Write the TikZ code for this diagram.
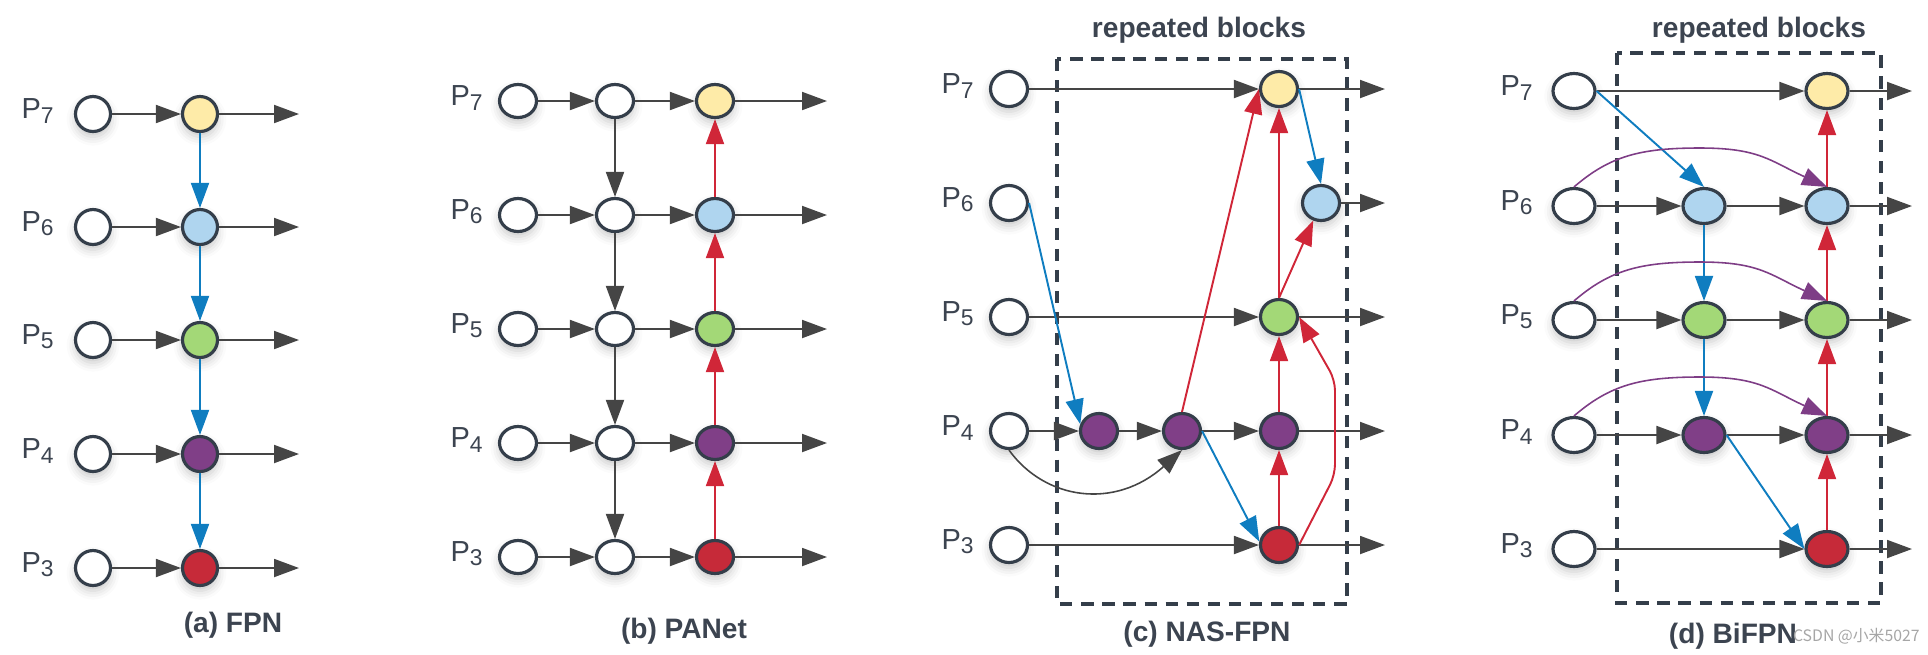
\documentclass[tikz,border=0pt]{standalone}
\usepackage{fontspec}
\setmainfont{Liberation Sans}
\newfontfamily\cjkfont{Noto Sans CJK SC}
\usetikzlibrary{arrows.meta,shapes.geometric,shadows.blur}

\definecolor{edgegray}{HTML}{343E4A}
\definecolor{txtgray}{HTML}{3C4450}
\definecolor{arrgray}{HTML}{454545}
\definecolor{fyellow}{HTML}{FEEBA8}
\definecolor{fblue}{HTML}{AFD5EF}
\definecolor{fgreen}{HTML}{A3D877}
\definecolor{fpurple}{HTML}{803F87}
\definecolor{fred}{HTML}{C62A39}
\definecolor{lblue}{HTML}{0F7DC0}
\definecolor{lred}{HTML}{D02638}
\definecolor{lpurple}{HTML}{7E3D86}

\newcommand{\plab}[1]{P\raisebox{-2.4pt}{\fontsize{13}{13}\selectfont #1}}

\tikzset{
  fnode/.style={ellipse, draw=edgegray, line width=1.8pt, fill=white, inner sep=0pt,
    minimum width=0.70cm, minimum height=0.70cm,
    blur shadow={shadow xshift=0pt, shadow yshift=-3pt, shadow blur radius=5pt, shadow opacity=22}},
  sizeb/.style={minimum width=0.74cm, minimum height=0.66cm},
  sizec/.style={minimum width=0.74cm, minimum height=0.70cm},
  sized/.style={minimum width=0.84cm, minimum height=0.70cm},
  arr/.style={color=arrgray, line width=1.1pt, -{Triangle[length=0.5cm,width=0.36cm]}},
  bluearr/.style={arr, color=lblue},
  redarr/.style={arr, color=lred},
  purparr/.style={arr, color=lpurple, line width=0.9pt},
  thinarr/.style={arr, line width=0.9pt},
  plabel/.style={font=\fontsize{16.5}{18}\selectfont, text=txtgray, anchor=east, inner sep=0pt},
  caption/.style={font=\fontsize{16}{18}\selectfont\bfseries, text=txtgray, inner sep=0pt},
  rblock/.style={draw=edgegray, line width=2pt, dash pattern=on 7pt off 5pt}
}

\begin{document}
\begin{tikzpicture}[x=0.02cm, y=0.02cm]
\useasboundingbox (0,0) rectangle (1928,-654);

% (a) FPN
\node[plabel] (a7l) at (54,-111) {\plab{7}};
\node[plabel] (a6l) at (54,-224) {\plab{6}};
\node[plabel] (a5l) at (54,-337) {\plab{5}};
\node[plabel] (a4l) at (54,-451) {\plab{4}};
\node[plabel] (a3l) at (54,-565) {\plab{3}};
\node[fnode] (a7i) at (93,-114) {};
\node[fnode] (a6i) at (93,-227) {};
\node[fnode] (a5i) at (93,-340) {};
\node[fnode] (a4i) at (93,-454) {};
\node[fnode] (a3i) at (93,-568) {};
\node[fnode, fill=fyellow] (a7f) at (200,-114) {};
\node[fnode, fill=fblue] (a6f) at (200,-227) {};
\node[fnode, fill=fgreen] (a5f) at (200,-340) {};
\node[fnode, fill=fpurple] (a4f) at (200,-454) {};
\node[fnode, fill=fred] (a3f) at (200,-568) {};
\coordinate (a7o) at (299,-114);
\coordinate (a6o) at (299,-227);
\coordinate (a5o) at (299,-340);
\coordinate (a4o) at (299,-454);
\coordinate (a3o) at (299,-568);
\draw[arr] (a7i) -- (a7f);
\draw[arr] (a6i) -- (a6f);
\draw[arr] (a5i) -- (a5f);
\draw[arr] (a4i) -- (a4f);
\draw[arr] (a3i) -- (a3f);
\draw[arr] (a7f) -- (a7o);
\draw[arr] (a6f) -- (a6o);
\draw[arr] (a5f) -- (a5o);
\draw[arr] (a4f) -- (a4o);
\draw[arr] (a3f) -- (a3o);
\draw[bluearr] (a7f) -- (a6f);
\draw[bluearr] (a6f) -- (a5f);
\draw[bluearr] (a5f) -- (a4f);
\draw[bluearr] (a4f) -- (a3f);
\node[caption] (acap) at (233,-625) {(a) FPN};

% (b) PANet
\node[plabel] (b7l) at (483,-98) {\plab{7}};
\node[plabel] (b6l) at (483,-212) {\plab{6}};
\node[plabel] (b5l) at (483,-326) {\plab{5}};
\node[plabel] (b4l) at (483,-440) {\plab{4}};
\node[plabel] (b3l) at (483,-554) {\plab{3}};
\node[fnode, sizeb] (b7i) at (518,-101) {};
\node[fnode, sizeb] (b6i) at (518,-215) {};
\node[fnode, sizeb] (b5i) at (518,-329) {};
\node[fnode, sizeb] (b4i) at (518,-443) {};
\node[fnode, sizeb] (b3i) at (518,-557) {};
\node[fnode, sizeb] (b7m) at (615,-101) {};
\node[fnode, sizeb] (b6m) at (615,-215) {};
\node[fnode, sizeb] (b5m) at (615,-329) {};
\node[fnode, sizeb] (b4m) at (615,-443) {};
\node[fnode, sizeb] (b3m) at (615,-557) {};
\node[fnode, sizeb, fill=fyellow] (b7f) at (715,-101) {};
\node[fnode, sizeb, fill=fblue] (b6f) at (715,-215) {};
\node[fnode, sizeb, fill=fgreen] (b5f) at (715,-329) {};
\node[fnode, sizeb, fill=fpurple] (b4f) at (715,-443) {};
\node[fnode, sizeb, fill=fred] (b3f) at (715,-557) {};
\coordinate (b7o) at (827,-101);
\coordinate (b6o) at (827,-215);
\coordinate (b5o) at (827,-329);
\coordinate (b4o) at (827,-443);
\coordinate (b3o) at (827,-557);
\draw[arr] (b7i) -- (b7m);
\draw[arr] (b6i) -- (b6m);
\draw[arr] (b5i) -- (b5m);
\draw[arr] (b4i) -- (b4m);
\draw[arr] (b3i) -- (b3m);
\draw[arr] (b7m) -- (b7f);
\draw[arr] (b6m) -- (b6f);
\draw[arr] (b5m) -- (b5f);
\draw[arr] (b4m) -- (b4f);
\draw[arr] (b3m) -- (b3f);
\draw[arr] (b7f) -- (b7o);
\draw[arr] (b6f) -- (b6o);
\draw[arr] (b5f) -- (b5o);
\draw[arr] (b4f) -- (b4o);
\draw[arr] (b3f) -- (b3o);
\draw[arr] (b7m) -- (b6m);
\draw[arr] (b6m) -- (b5m);
\draw[arr] (b5m) -- (b4m);
\draw[arr] (b4m) -- (b3m);
\draw[redarr] (b3f) -- (b4f);
\draw[redarr] (b4f) -- (b5f);
\draw[redarr] (b5f) -- (b6f);
\draw[redarr] (b6f) -- (b7f);
\node[caption] (bcap) at (684,-631) {(b) PANet};

% (c) NAS-FPN
\draw[rblock] (1057,-59) rectangle (1347,-604);
\node[caption] (crep) at (1199,-30) {repeated blocks};
\node[plabel] (c7l) at (974,-86) {\plab{7}};
\node[plabel] (c6l) at (974,-200) {\plab{6}};
\node[plabel] (c5l) at (974,-314) {\plab{5}};
\node[plabel] (c4l) at (974,-428) {\plab{4}};
\node[plabel] (c3l) at (974,-542) {\plab{3}};
\node[fnode, sizec] (c7i) at (1009,-89) {};
\node[fnode, sizec] (c6i) at (1009,-203) {};
\node[fnode, sizec] (c5i) at (1009,-317) {};
\node[fnode, sizec] (c4i) at (1009,-431) {};
\node[fnode, sizec] (c3i) at (1009,-545) {};
\node[fnode, sizec, fill=fpurple] (c4a) at (1099,-431) {};
\node[fnode, sizec, fill=fpurple] (c4b) at (1182,-431) {};
\node[fnode, sizec, fill=fyellow] (c7f) at (1279,-89) {};
\node[fnode, sizec, fill=fblue] (c6f) at (1321,-203) {};
\node[fnode, sizec, fill=fgreen] (c5f) at (1279,-317) {};
\node[fnode, sizec, fill=fpurple] (c4f) at (1279,-431) {};
\node[fnode, sizec, fill=fred] (c3f) at (1279,-545) {};
\coordinate (c7o) at (1385,-89);
\coordinate (c6o) at (1385,-203);
\coordinate (c5o) at (1385,-317);
\coordinate (c4o) at (1385,-431);
\coordinate (c3o) at (1385,-545);
\draw[arr] (c7i) -- (c7f);
\draw[arr] (c5i) -- (c5f);
\draw[arr] (c4i) -- (c4a);
\draw[arr] (c4a) -- (c4b);
\draw[arr] (c4b) -- (c4f);
\draw[arr] (c3i) -- (c3f);
\draw[arr] (c7f) -- (c7o);
\draw[arr] (c6f) -- (c6o);
\draw[arr] (c5f) -- (c5o);
\draw[arr] (c4f) -- (c4o);
\draw[arr] (c3f) -- (c3o);
\draw[thinarr] (c4i.south) .. controls (1045,-500) and (1115,-510) .. (c4b.south);
\draw[bluearr] (c6i.east) -- (c4a.160);
\draw[bluearr] (c4b.east) -- (c3f.170);
\draw[bluearr] (c7f.east) -- (c6f.north);
\draw[redarr] (c4b.north) -- (c7f.west);
\draw[redarr] (c3f) -- (c4f);
\draw[redarr] (c4f) -- (c5f);
\draw[redarr] (c5f) -- (c7f);
\draw[redarr] (c5f.north) -- (c6f);
\draw[redarr, rounded corners=6pt] (c3f.east) -- (1335,-475) -- (1335,-380) -- (c5f.east);
\node[caption] (ccap) at (1207,-634) {(c) NAS-FPN};

% (d) BiFPN
\draw[rblock] (1617,-53) rectangle (1881,-603);
\node[caption] (drep) at (1759,-30) {repeated blocks};
\node[plabel] (d7l) at (1533,-88) {\plab{7}};
\node[plabel] (d6l) at (1533,-203) {\plab{6}};
\node[plabel] (d5l) at (1533,-317) {\plab{5}};
\node[plabel] (d4l) at (1533,-432) {\plab{4}};
\node[plabel] (d3l) at (1533,-546) {\plab{3}};
\node[fnode, sized] (d7i) at (1574,-91) {};
\node[fnode, sized] (d6i) at (1574,-206) {};
\node[fnode, sized] (d5i) at (1574,-320) {};
\node[fnode, sized] (d4i) at (1574,-435) {};
\node[fnode, sized] (d3i) at (1574,-549) {};
\node[fnode, sized, fill=fblue] (d6m) at (1704,-206) {};
\node[fnode, sized, fill=fgreen] (d5m) at (1704,-320) {};
\node[fnode, sized, fill=fpurple] (d4m) at (1704,-435) {};
\node[fnode, sized, fill=fyellow] (d7f) at (1827,-91) {};
\node[fnode, sized, fill=fblue] (d6f) at (1827,-206) {};
\node[fnode, sized, fill=fgreen] (d5f) at (1827,-320) {};
\node[fnode, sized, fill=fpurple] (d4f) at (1827,-435) {};
\node[fnode, sized, fill=fred] (d3f) at (1827,-549) {};
\coordinate (d7o) at (1912,-91);
\coordinate (d6o) at (1912,-206);
\coordinate (d5o) at (1912,-320);
\coordinate (d4o) at (1912,-435);
\coordinate (d3o) at (1912,-549);
\draw[arr] (d7i) -- (d7f);
\draw[arr] (d6i) -- (d6m);
\draw[arr] (d5i) -- (d5m);
\draw[arr] (d4i) -- (d4m);
\draw[arr] (d3i) -- (d3f);
\draw[arr] (d6m) -- (d6f);
\draw[arr] (d5m) -- (d5f);
\draw[arr] (d4m) -- (d4f);
\draw[arr] (d7f) -- (d7o);
\draw[arr] (d6f) -- (d6o);
\draw[arr] (d5f) -- (d5o);
\draw[arr] (d4f) -- (d4o);
\draw[arr] (d3f) -- (d3o);
\draw[bluearr] (d7i.east) -- (d6m.north);
\draw[bluearr] (d6m) -- (d5m);
\draw[bluearr] (d5m) -- (d4m);
\draw[bluearr] (d4m.east) -- (d3f.west);
\draw[redarr] (d3f) -- (d4f);
\draw[redarr] (d4f) -- (d5f);
\draw[redarr] (d5f) -- (d6f);
\draw[redarr] (d6f) -- (d7f);
\draw[purparr] (d6i.north) .. controls (1610,-156) and (1640,-148) .. (1700,-148)
  .. controls (1760,-148) and (1770,-161) .. (d6f.north);
\draw[purparr] (d5i.north) .. controls (1610,-270) and (1640,-262) .. (1700,-262)
  .. controls (1760,-262) and (1770,-275) .. (d5f.north);
\draw[purparr] (d4i.north) .. controls (1610,-385) and (1640,-377) .. (1700,-377)
  .. controls (1760,-377) and (1770,-390) .. (d4f.north);
\node[caption] (dcap) at (1733,-636) {(d) BiFPN};
\node[text=gray!70, font=\cjkfont\fontsize{9}{11}\selectfont, inner sep=0pt, anchor=east] (mark) at (1920,-636) {CSDN @小米5027};
\end{tikzpicture}
\end{document}
